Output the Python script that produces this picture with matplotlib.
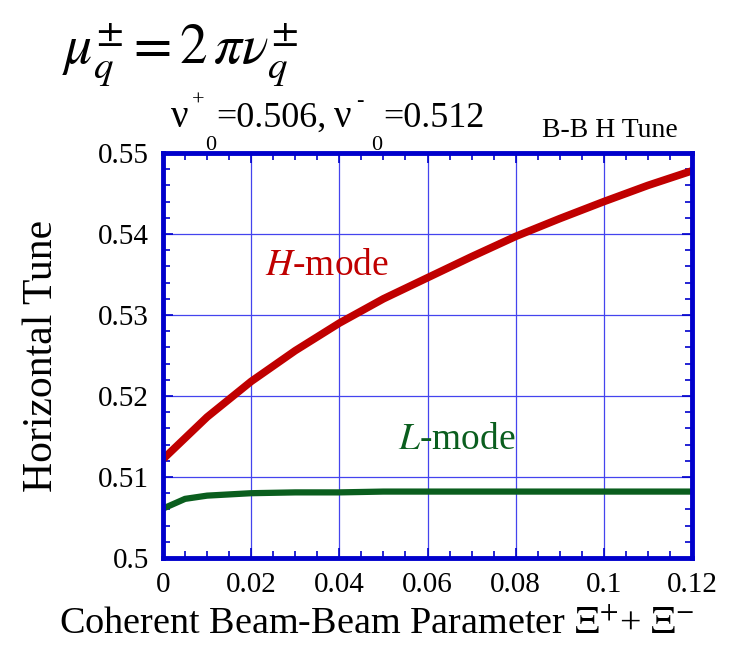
import numpy as np
import matplotlib
matplotlib.use("Agg")
from matplotlib import pyplot as plt
from matplotlib.ticker import MultipleLocator

plt.rcParams['font.family'] = ['Liberation Serif', 'DejaVu Serif']
plt.rcParams['mathtext.fontset'] = 'stix'

# H-mode and L-mode horizontal tune vs coherent beam-beam parameter
h_x = [0, 0.01, 0.02, 0.03, 0.04, 0.05, 0.06, 0.07, 0.08, 0.09, 0.1, 0.11, 0.12]
h_tune = [0.5122, 0.5174, 0.5218, 0.5256, 0.5290, 0.5320, 0.5346,
          0.5372, 0.5397, 0.5419, 0.5440, 0.5460, 0.5478]
l_x = [0, 0.005, 0.01, 0.02, 0.03, 0.04, 0.05, 0.06, 0.07, 0.08, 0.09, 0.1, 0.11, 0.12]
l_tune = [0.5061, 0.5073, 0.5077, 0.5080, 0.5081, 0.5081, 0.5082,
          0.5082, 0.5082, 0.5082, 0.5082, 0.5082, 0.5082, 0.5082]
x_ticks = [0, 0.02, 0.04, 0.06, 0.08, 0.1, 0.12]
x_labels = ['0', '0.02', '0.04', '0.06', '0.08', '0.1', '0.12']
y_ticks = [0.5, 0.51, 0.52, 0.53, 0.54, 0.55]
y_labels = ['0.5', '0.51', '0.52', '0.53', '0.54', '0.55']

blue = '#0000cc'
W, H = 732, 651

fig = plt.figure(figsize=(W / 100, H / 100), dpi=100)
ax = fig.add_axes([163 / W, 1 - 558 / H, 529 / W, 405 / H])

ax.plot(h_x, h_tune, color='#c00000', lw=5.5, solid_capstyle='round')
ax.plot(l_x, l_tune, color='#0a5e1e', lw=4.5, solid_capstyle='round')

ax.set_xlim(0, 0.12)
ax.set_ylim(0.5, 0.55)
ax.xaxis.set_minor_locator(MultipleLocator(0.005))
ax.yaxis.set_minor_locator(MultipleLocator(0.002))
ax.set_xticks(x_ticks)
ax.set_xticklabels(x_labels)
ax.set_yticks(y_ticks)
ax.set_yticklabels(y_labels)

ax.tick_params(which='both', direction='in', top=True, right=True, color=blue,
               labelsize=21, pad=10)
ax.tick_params(which='major', length=7, width=1.2)
ax.tick_params(which='minor', length=5, width=1.2)
ax.grid(True, which='major', color='#4444ee', lw=0.9)
for s in ax.spines.values():
    s.set_color(blue)
    s.set_linewidth(3.5)

ax.set_ylabel('Horizontal Tune', fontsize=30, labelpad=27)
ax.set_xlabel(r'Coherent Beam-Beam Parameter $\Xi^{+}$+ $\Xi^{-}$', fontsize=27.5, labelpad=6)
ax.xaxis.label.set_x(0.403)

ax.text(0.0231, 0.5349, r'$\it{H}$-mode', color='#c00000', fontsize=27)
ax.text(0.0533, 0.5135, r'$\it{L}$-mode', color='#0a5e1e', fontsize=27)

fig.text(62 / W, 1 - 63 / H, r'$\mu_q^{\pm} = 2\,\pi\nu_q^{\pm}$', fontsize=40)


def ptext(x, y, s, size):
    fig.text(x / W, 1 - y / H, s, fontsize=size, va='baseline')


# nu_0 annotation, pieces placed like the original's offset sub/superscripts
ptext(171, 127, 'ν', 28)
ptext(192, 106, '+', 16)
ptext(205, 150, '0', 16)
ptext(216, 127, '=0.506,', 26)
ptext(334, 127, 'ν', 28)
ptext(356, 106, '-', 16)
ptext(371, 150, '0', 16)
ptext(383, 127, '=0.512', 26)

fig.text(678 / W, 1 - 137 / H, 'B-B H Tune', fontsize=20, ha='right')

fig.savefig('out.png', dpi=100)
